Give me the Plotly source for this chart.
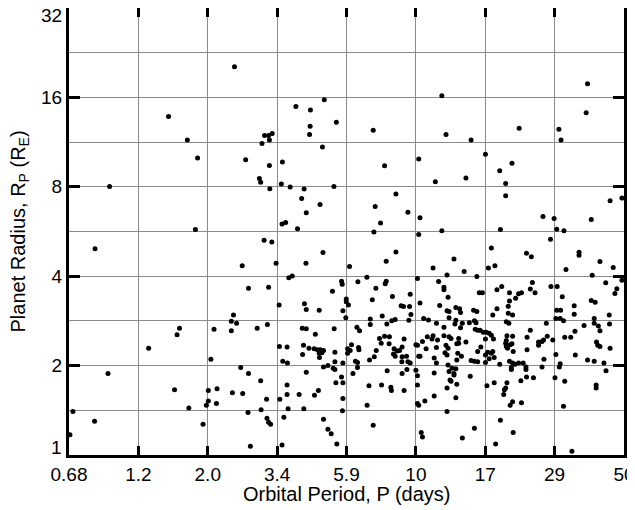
import numpy as np
import plotly.graph_objects as go

# Orbital period (days) and planet radius (Earth radii)
period_days = [
    1.47, 1.70, 1.84, 2.45, 4.91, 3.94, 4.41, 5.39, 4.40, 3.09,
    3.19, 3.28, 4.38, 3.21, 3.03, 4.84, 12.2, 7.17, 12.6, 15.3,
    37.7, 37.3, 22.2, 30.2, 30.7, 17.1, 0.931, 1.81, 0.832, 2.67,
    3.21, 3.55, 2.97, 3.00, 3.22, 3.52, 3.77, 4.20, 5.29, 4.12,
    4.75, 4.27, 3.54, 3.64, 3.99, 3.08, 3.27, 4.86, 2.60, 3.38,
    4.26, 3.73, 3.83, 5.61, 5.64, 2.73, 3.19, 5.23, 10.2, 7.83,
    11.6, 14.7, 8.55, 7.28, 9.38, 10.3, 7.59, 7.21, 10.2, 12.2,
    8.55, 7.93, 5.97, 13.4, 11.4, 14.5, 12.7, 16.0, 6.37, 6.83,
    7.93, 7.87, 10.1, 11.9, 12.4, 12.4, 7.32, 9.55, 8.32, 7.12,
    12.8, 5.82, 5.82, 10.3, 16.3, 16.7, 21.0, 19.1, 20.0, 20.0,
    44.9, 49.2, 26.7, 29.1, 38.8, 19.2, 29.7, 31.4, 28.3, 17.9,
    23.5, 24.4, 35.3, 35.3, 41.5, 18.4, 17.5, 31.9, 46.0, 39.1,
    49.2, 43.4, 24.6, 47.3, 46.6, 19.4, 18.7, 24.2, 25.1, 28.4,
    29.8, 20.6, 22.1, 22.6, 21.6, 31.0, 20.6, 38.8, 40.0, 1.60,
    1.57, 1.26, 0.920, 1.54, 1.72, 0.701, 0.829, 1.92, 0.685, 3.46,
    4.21, 4.27, 4.72, 5.67, 2.43, 2.39, 2.49, 2.39, 2.09, 2.92,
    3.16, 4.14, 4.27, 4.58, 5.30, 3.47, 3.68, 4.18, 4.36, 4.54,
    4.66, 4.76, 4.88, 4.72, 4.82, 4.73, 4.15, 5.33, 2.04, 3.56,
    3.69, 5.33, 4.88, 5.05, 5.26, 5.33, 2.57, 2.73, 4.27, 3.00,
    5.37, 5.61, 5.67, 3.68, 2.00, 2.14, 2.41, 2.61, 3.68, 4.04,
    4.55, 4.69, 2.00, 1.97, 2.13, 3.14, 3.48, 5.67, 3.01, 3.71,
    4.19, 2.72, 3.15, 3.19, 3.24, 3.59, 4.88, 5.05, 5.18, 5.41,
    2.77, 3.54, 5.92, 8.90, 9.07, 9.50, 12.0, 13.6, 14.0, 12.7,
    12.9, 14.1, 15.6, 16.0, 5.80, 7.69, 9.60, 7.01, 7.01, 7.97,
    8.28, 8.50, 9.45, 10.6, 11.0, 11.7, 12.4, 12.9, 13.6, 13.5,
    14.3, 15.1, 15.7, 15.9, 14.1, 16.1, 15.8, 6.32, 6.45, 7.53,
    7.83, 8.13, 7.63, 8.11, 9.11, 8.43, 8.63, 8.79, 8.97, 7.34,
    6.06, 5.88, 6.00, 5.88, 6.40, 6.42, 8.39, 8.50, 8.97, 9.28,
    7.23, 6.97, 8.95, 9.38, 9.55, 6.25, 6.35, 5.67, 6.35, 6.13,
    9.98, 10.5, 10.9, 11.4, 11.3, 11.8, 10.8, 10.2, 10.3, 10.1,
    12.4, 12.9, 13.1, 13.9, 13.7, 13.9, 14.7, 12.6, 12.8, 12.5,
    12.7, 13.8, 11.7, 11.5, 11.7, 14.2, 13.7, 15.3, 16.1, 15.7,
    16.1, 12.8, 13.2, 13.6, 12.9, 13.4, 15.2, 13.4, 13.0, 13.1,
    13.7, 12.7, 13.6, 11.5, 9.98, 10.1, 9.31, 8.97, 7.99, 6.94,
    7.65, 8.22, 8.26, 9.11, 10.1, 11.5, 10.7, 10.1, 10.2, 6.84,
    5.65, 12.7, 7.17, 10.4, 10.5, 14.3, 15.7, 20.4, 18.7, 18.1,
    20.4, 21.1, 34.0, 34.0, 29.7, 30.6, 29.5, 30.5, 31.3, 20.1,
    20.5, 27.4, 24.2, 39.7, 39.7, 41.0, 41.5, 44.6, 44.7, 36.7,
    34.2, 16.4, 16.8, 17.2, 17.6, 17.9, 17.1, 18.2, 20.2, 21.1,
    23.6, 20.1, 20.0, 20.7, 21.0, 20.3, 20.1, 25.8, 25.8, 26.5,
    26.8, 27.6, 28.8, 31.6, 33.1, 40.4, 40.8, 41.5, 44.9, 16.5,
    17.4, 17.9, 17.1, 18.1, 21.2, 23.6, 17.6, 18.3, 17.1, 29.5,
    34.3, 26.9, 37.7, 39.7, 42.8, 19.1, 20.6, 21.1, 21.5, 22.1,
    20.9, 20.9, 22.9, 23.4, 23.4, 26.5, 30.5, 30.3, 43.5, 23.5,
    24.8, 22.5, 18.3, 17.3, 20.2, 20.0, 19.8, 19.7, 29.3, 31.6,
    40.3, 40.3, 21.1, 20.7, 22.6, 31.3, 19.2, 21.2, 18.5, 33.4,
]

radius_earth = [
    13.8, 11.5, 10.0, 20.3, 15.7, 14.9, 14.5, 13.2, 12.8, 11.9,
    11.9, 12.1, 12.0, 11.5, 11.2, 10.9, 16.2, 12.4, 12.0, 11.5,
    17.8, 14.2, 12.6, 12.5, 11.5, 10.3, 8.02, 5.75, 4.95, 9.86,
    9.44, 9.69, 8.54, 8.28, 7.88, 8.17, 7.98, 7.86, 8.02, 7.31,
    6.98, 6.54, 6.00, 6.07, 5.78, 5.29, 5.21, 4.81, 4.34, 4.42,
    4.42, 3.95, 4.01, 3.85, 3.76, 3.64, 3.67, 3.56, 9.92, 9.41,
    8.32, 8.56, 7.56, 6.87, 6.57, 6.29, 6.04, 5.64, 5.53, 5.69,
    4.83, 4.49, 4.31, 4.57, 4.26, 4.15, 4.04, 3.99, 3.83, 3.97,
    3.85, 3.77, 3.93, 3.84, 3.67, 3.60, 3.64, 3.48, 3.42, 3.33,
    3.40, 3.35, 3.28, 3.25, 3.52, 3.52, 9.61, 9.06, 8.21, 7.46,
    7.18, 7.33, 6.35, 6.26, 6.21, 5.75, 5.76, 5.69, 5.33, 4.98,
    4.78, 4.65, 4.82, 4.71, 4.48, 4.34, 4.26, 4.21, 4.28, 4.03,
    3.88, 3.80, 3.81, 3.63, 3.50, 3.69, 3.60, 3.62, 3.52, 3.69,
    3.69, 3.52, 3.49, 3.52, 3.37, 3.41, 3.30, 3.31, 3.27, 2.67,
    2.54, 2.29, 1.88, 1.66, 1.44, 1.40, 1.30, 1.27, 1.17, 3.20,
    3.23, 3.09, 3.07, 3.06, 2.96, 2.82, 2.78, 2.62, 2.65, 2.67,
    2.75, 2.67, 2.66, 2.55, 2.66, 2.32, 2.31, 2.34, 2.29, 2.28,
    2.26, 2.26, 2.25, 2.20, 2.21, 2.13, 2.18, 2.22, 2.10, 2.07,
    2.04, 2.06, 1.98, 2.00, 1.96, 1.94, 1.97, 1.88, 1.90, 1.78,
    1.75, 1.83, 1.75, 1.72, 1.65, 1.67, 1.62, 1.61, 1.60, 1.60,
    1.59, 1.65, 1.52, 1.47, 1.49, 1.54, 1.54, 1.55, 1.42, 1.43,
    1.43, 1.39, 1.33, 1.29, 1.27, 1.34, 1.32, 1.22, 1.18, 1.09,
    1.07, 1.08, 3.20, 3.18, 3.16, 3.16, 3.19, 3.14, 3.11, 3.06,
    3.04, 3.02, 3.07, 3.04, 2.90, 2.94, 2.97, 2.87, 2.75, 2.76,
    2.83, 2.86, 2.84, 2.88, 2.85, 2.78, 2.69, 2.90, 2.84, 2.76,
    2.78, 2.79, 2.83, 2.79, 2.68, 2.63, 2.65, 2.69, 2.62, 2.47,
    2.51, 2.50, 2.38, 2.37, 2.46, 2.28, 2.24, 2.25, 2.31, 2.25,
    2.35, 2.28, 2.25, 2.20, 2.30, 2.26, 2.19, 2.15, 2.14, 2.15,
    2.14, 2.09, 2.06, 2.06, 2.04, 2.07, 2.05, 2.04, 1.97, 1.88,
    2.35, 2.41, 2.50, 2.52, 2.46, 2.44, 2.28, 2.15, 2.15, 2.34,
    2.52, 2.50, 2.47, 2.47, 2.37, 2.38, 2.40, 2.34, 2.29, 2.21,
    2.17, 2.20, 2.30, 2.12, 2.04, 2.15, 2.09, 2.08, 2.23, 2.07,
    2.06, 2.01, 1.96, 1.95, 1.91, 1.88, 1.84, 1.86, 1.79, 1.77,
    1.73, 1.68, 1.56, 1.89, 1.93, 1.85, 1.94, 1.88, 1.92, 1.71,
    1.72, 1.69, 1.65, 1.65, 1.72, 1.58, 1.52, 1.49, 1.47, 1.47,
    1.41, 1.40, 1.26, 1.19, 1.15, 1.14, 1.23, 3.17, 3.11, 2.96,
    3.00, 2.96, 3.18, 2.98, 3.07, 3.07, 2.88, 2.88, 2.83, 2.81,
    2.78, 2.78, 2.63, 2.88, 2.78, 2.72, 2.62, 2.96, 2.76, 2.73,
    2.61, 2.63, 2.59, 2.59, 2.57, 2.53, 2.46, 2.46, 2.52, 2.51,
    2.49, 2.43, 2.38, 2.35, 2.37, 2.29, 2.32, 2.40, 2.34, 2.41,
    2.44, 2.51, 2.44, 2.49, 2.49, 2.40, 2.34, 2.32, 2.29, 2.31,
    2.22, 2.20, 2.17, 2.23, 2.23, 2.26, 2.11, 2.13, 2.05, 2.18,
    2.17, 2.10, 2.09, 2.07, 2.04, 2.02, 2.07, 2.04, 2.02, 2.04,
    1.97, 1.94, 2.04, 1.98, 1.94, 1.98, 2.03, 1.98, 1.92, 1.83,
    1.82, 1.78, 1.75, 1.71, 1.75, 1.68, 1.66, 1.60, 1.82, 1.77,
    1.72, 1.68, 1.51, 1.47, 1.50, 1.46, 1.31, 1.19, 1.09, 1.03,
]

x_tick_labels = ["0.68", "1.2", "2.0", "3.4", "5.9", "10", "17", "29", "50"]
y_tick_values = [1, 2, 4, 8, 16, 32]
y_tick_labels = ["1", "2", "4", "8", "16", "32"]
x_title = "Orbital Period, P (days)"
y_title = "Planet Radius, R<sub>P</sub> (R<sub>E</sub>)"

x_min, x_max = 0.68, 50.0
x_tickvals = list(np.geomspace(x_min, x_max, len(x_tick_labels)))
y_minor_vals = [v * np.sqrt(2) for v in y_tick_values[:-1]]

FONT = "Liberation Sans, Arial, Helvetica, sans-serif"
GRID = "#8a8a8a"
TICK_SIZE = 19
TITLE_SIZE = 20

fig = go.Figure(
    go.Scatter(
        x=period_days,
        y=radius_earth,
        mode="markers",
        marker=dict(color="black", size=5, line=dict(width=0)),
        hoverinfo="skip",
    )
)

# the page body adds an 8px margin, so the figure is 8px smaller than the window
fig.update_layout(
    width=627,
    height=502,
    margin=dict(l=61, r=11, t=0, b=55),
    paper_bgcolor="white",
    plot_bgcolor="white",
    showlegend=False,
    font=dict(family=FONT, color="black", size=TICK_SIZE),
    xaxis=dict(
        type="log",
        range=[np.log10(x_min), np.log10(x_max)],
        automargin=False,
        tickmode="array",
        tickvals=x_tickvals,
        ticktext=x_tick_labels,
        ticks="inside",
        ticklen=9,
        tickwidth=3,
        tickcolor="black",
        showline=True,
        linewidth=3,
        linecolor="black",
        mirror="ticks",
        showgrid=True,
        gridcolor=GRID,
        gridwidth=1,
        zeroline=False,
        tickfont=dict(size=TICK_SIZE, family=FONT),
    ),
    yaxis=dict(
        type="log",
        range=[0, np.log10(32)],
        automargin=False,
        tickmode="array",
        tickvals=y_tick_values[1:-1],
        ticktext=y_tick_labels[1:-1],
        ticks="inside",
        ticklen=11,
        tickwidth=3,
        tickcolor="black",
        showline=True,
        linewidth=3,
        linecolor="black",
        mirror="ticks",
        showgrid=True,
        gridcolor=GRID,
        gridwidth=1,
        zeroline=False,
        tickfont=dict(size=TICK_SIZE, family=FONT),
        minor=dict(tickmode="array", tickvals=y_minor_vals, showgrid=True,
                   gridcolor=GRID, gridwidth=1, ticks="", ticklen=0),
    ),
)

# end labels (1 and 32) sit slightly inside the frame, as in the reference
fig.add_annotation(x=0, xref="paper", y=np.log10(y_tick_values[0]), yref="y",
                   text=y_tick_labels[0], showarrow=False, xanchor="right",
                   xshift=-5, yshift=8, font=dict(size=TICK_SIZE, family=FONT))
fig.add_annotation(x=0, xref="paper", y=np.log10(y_tick_values[-1]), yref="y",
                   text=y_tick_labels[-1], showarrow=False, xanchor="right",
                   xshift=-5, yshift=-7, font=dict(size=TICK_SIZE, family=FONT))

# axis titles
fig.add_annotation(x=0.5, xref="paper", y=0, yref="paper", text=x_title,
                   showarrow=False, xanchor="center", yanchor="middle",
                   yshift=-39, font=dict(size=TITLE_SIZE, family=FONT))
fig.add_annotation(x=0, xref="paper", y=0.5, yref="paper", text=y_title,
                   showarrow=False, textangle=-90, xanchor="center", yanchor="middle",
                   xshift=-50, font=dict(size=TITLE_SIZE, family=FONT))

fig.write_html("out.html")
